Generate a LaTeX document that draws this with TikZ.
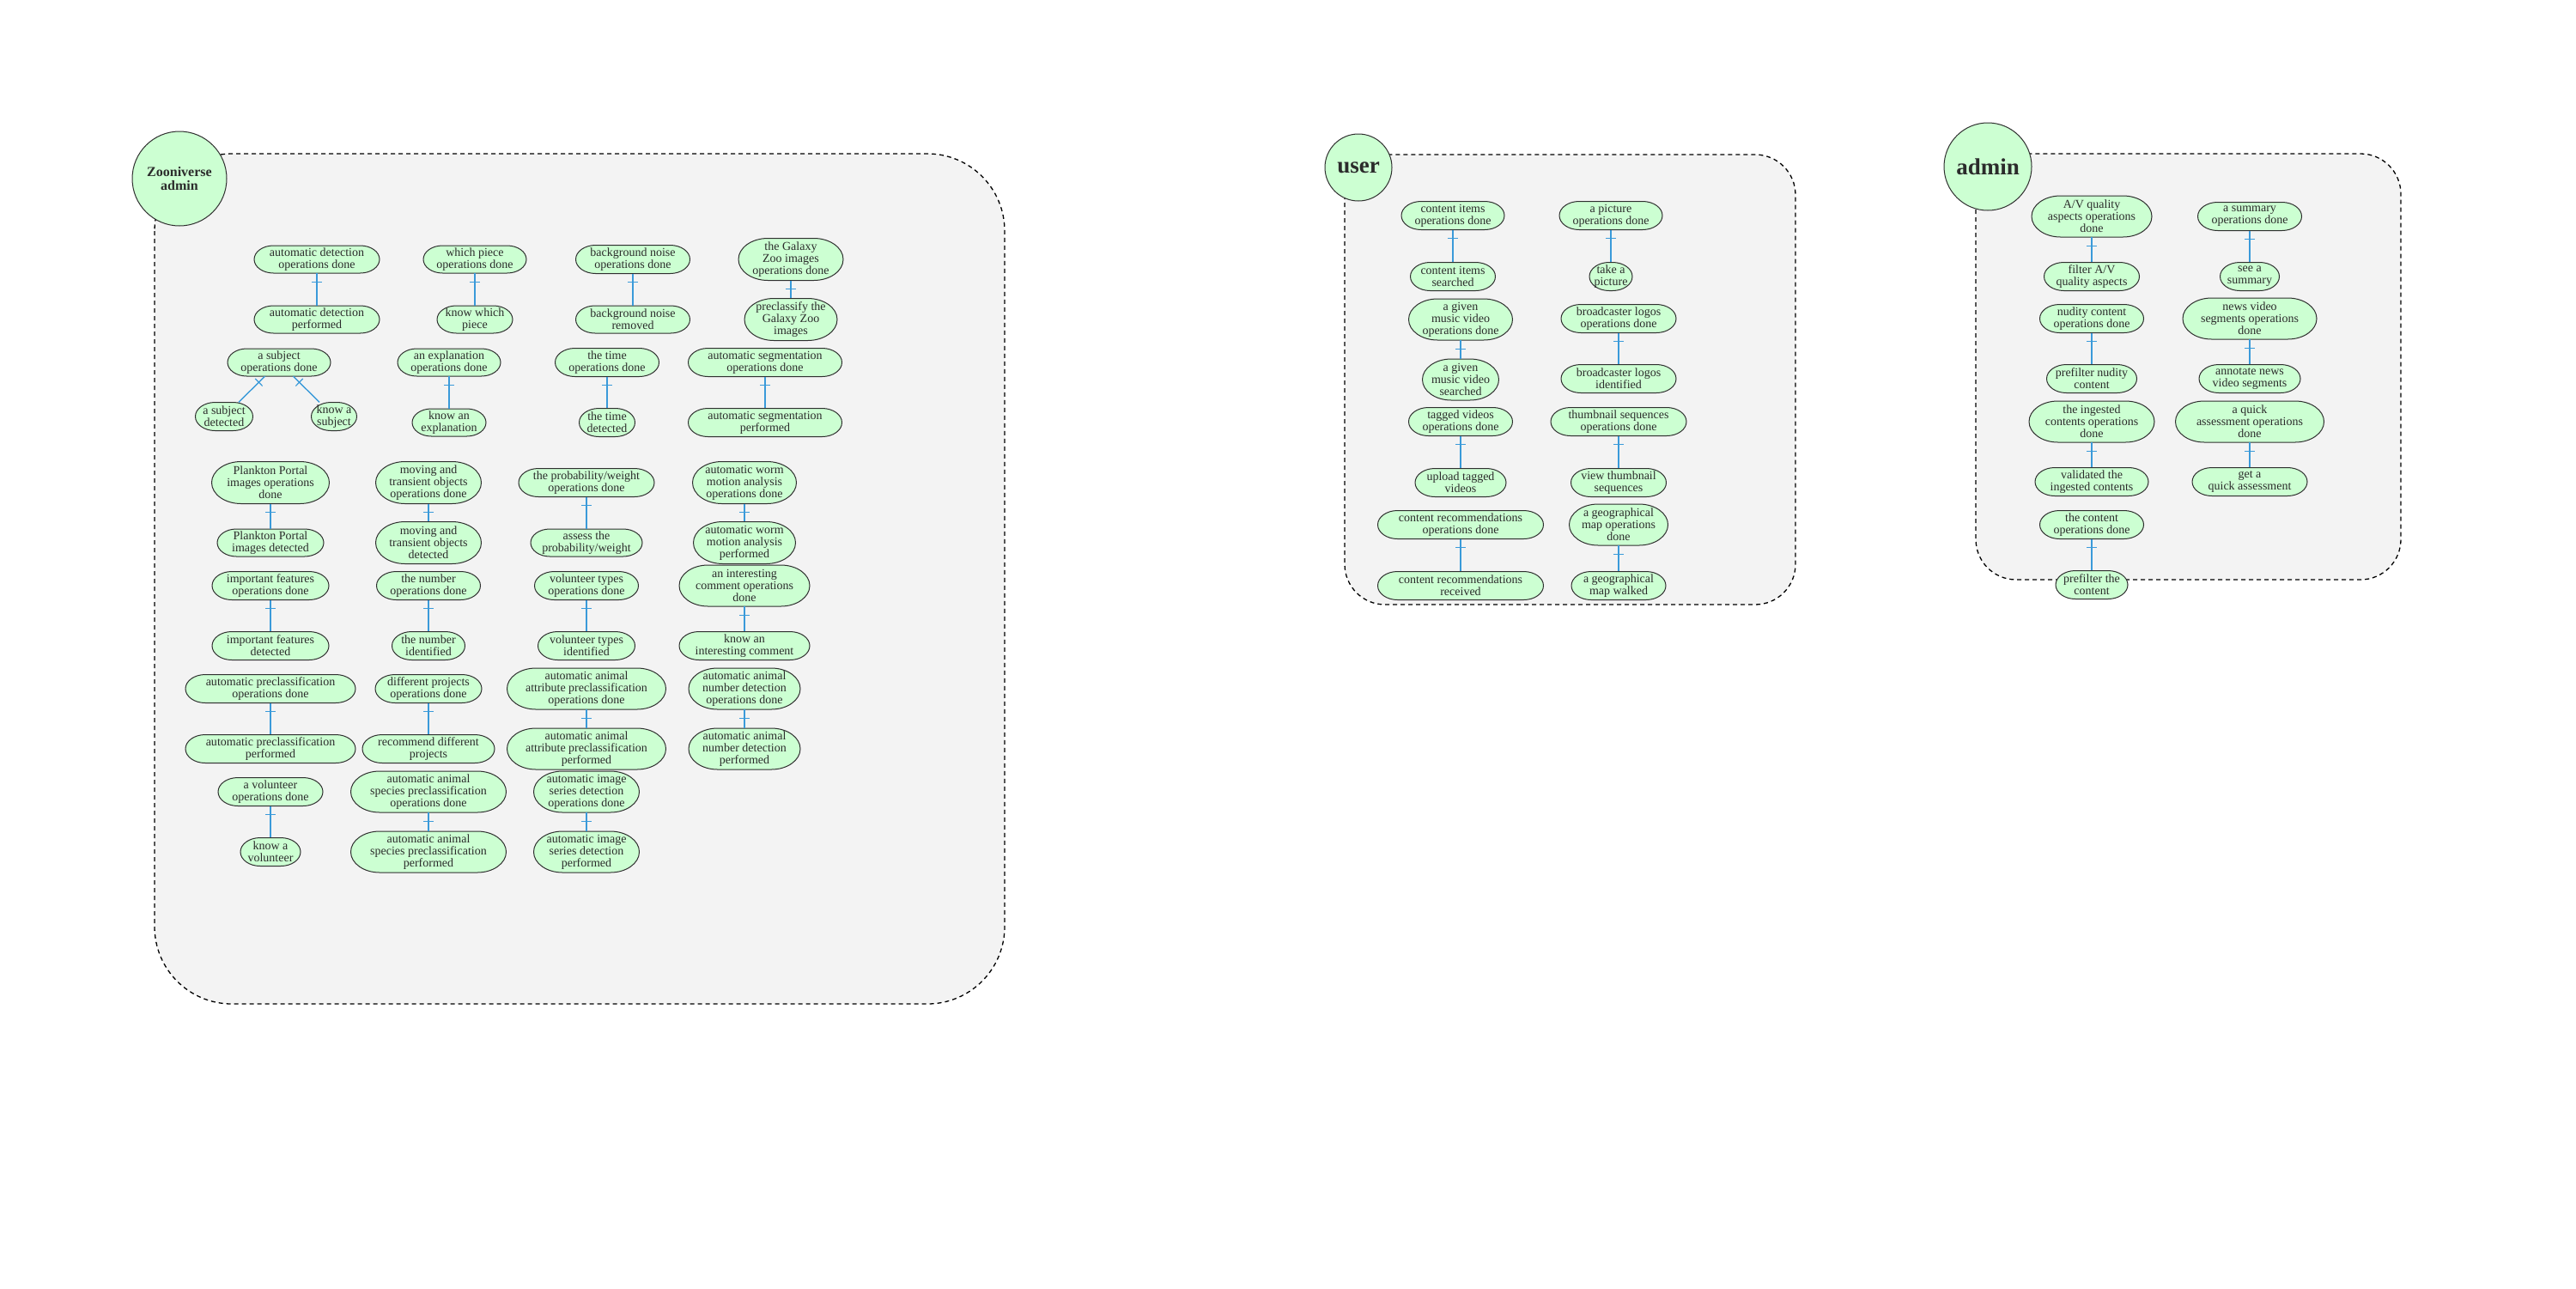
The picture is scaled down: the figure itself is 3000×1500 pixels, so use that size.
\documentclass[tikz,border=0pt]{standalone}
\usepackage{fontspec}
\setmainfont{Liberation Serif}
\usetikzlibrary{decorations.markings}
\definecolor{opfill}{HTML}{CCFFD2}
\definecolor{opline}{HTML}{2F2F2F}
\definecolor{txt}{HTML}{2B2B2B}
\definecolor{boxfill}{HTML}{F3F3F3}
\definecolor{connc}{HTML}{3A9AD9}
\newcommand{\opfont}{\fontsize{14pt}{14pt}\selectfont}
\newcommand{\opnode}[6]{%
  \pgfmathsetmacro\oprx{min(0.7*#5,#4/2)}%
  \pgfmathsetmacro\opry{#5/2}%
  \filldraw[fill=opfill,draw=opline,line width=1pt] (#2-#4/2+\oprx,-#3+\opry) -- (#2+#4/2-\oprx,-#3+\opry) arc[start angle=90,end angle=-90,x radius=\oprx pt,y radius=\opry pt] -- (#2-#4/2+\oprx,-#3-\opry) arc[start angle=270,end angle=90,x radius=\oprx pt,y radius=\opry pt] -- cycle;
  \node[optext,minimum width=#4pt,minimum height=#5pt] (#1) at (#2,-#3) {#6};
}
\tikzset{
  optext/.style={rectangle,inner sep=0pt,align=center,text=txt,font=\opfont},
  grp/.style={fill=boxfill,draw=black,line width=1.3pt,dash pattern=on 5pt off 4pt},
  actor/.style={circle,fill=opfill,draw=opline,line width=1pt,inner sep=0pt,align=center,text=txt},
  conn/.style={draw=connc,line width=1.4pt,postaction={decorate},
    decoration={markings,mark=at position 10pt with {\draw[connc,line width=1.2pt] (0pt,-6pt) -- (0pt,6pt);}}}
}
\begin{document}
\begin{tikzpicture}[x=1pt,y=1pt]
\fill[white] (0,0) rectangle (3000,-1500);
\useasboundingbox (0,0) rectangle (3000,-1500);
% group boxes
\path[grp,rounded corners=90pt] (180,-179) rectangle (1170,-1169);
\path[grp,rounded corners=47pt] (1566,-180) rectangle (2091,-704);
\path[grp,rounded corners=47pt] (2301,-179) rectangle (2796,-675);
% actors
\node[actor,minimum size=110pt,font=\bfseries\fontsize{16pt}{16pt}\selectfont] (zadmin) at (209,-208) {Zooniverse\\admin};
\node[actor,minimum size=78pt,font=\bfseries\fontsize{27pt}{27pt}\selectfont] (user) at (1582,-195) {user};
\node[actor,minimum size=102pt,font=\bfseries\fontsize{27pt}{27pt}\selectfont] (admin) at (2315,-194) {admin};
% left box, column 1
\opnode{a1}{369}{302}{146}{32}{automatic detection\\operations done}
\opnode{a2}{369}{372}{146}{32}{automatic detection\\performed}
\opnode{b1}{325}{422}{120}{32}{a subject\\operations done}
\opnode{b2}{261}{485}{67}{33}{a subject\\detected}
\opnode{b3}{389}{485}{53}{33}{know a\\subject}
\opnode{d1}{315}{562}{137}{49}{Plankton Portal\\images operations\\done}
\opnode{d2}{315}{632}{124}{32}{Plankton Portal\\images detected}
\opnode{e1}{315}{682}{136}{33}{important features\\operations done}
\opnode{e2}{315}{752}{136}{33}{important features\\detected}
\opnode{f1}{315}{802}{198}{33}{automatic preclassification\\operations done}
\opnode{f2}{315}{872}{198}{33}{automatic preclassification\\performed}
\opnode{g1}{315}{922}{122}{33}{a volunteer\\operations done}
\opnode{g2}{315}{992}{70}{33}{know a\\volunteer}
% column 2
\opnode{h1}{553}{302}{120}{32}{which piece\\operations done}
\opnode{h2}{553}{372}{88}{32}{know which\\piece}
\opnode{i1}{523}{422}{120}{32}{an explanation\\operations done}
\opnode{i2}{523}{492}{86}{32}{know an\\explanation}
\opnode{j1}{499}{562}{123}{49}{moving and\\transient objects\\operations done}
\opnode{j2}{499}{632}{123}{49}{moving and\\transient objects\\detected}
\opnode{k1}{499}{682}{121}{33}{the number\\operations done}
\opnode{k2}{499}{752}{85}{33}{the number\\identified}
\opnode{l1}{499}{802}{124}{33}{different projects\\operations done}
\opnode{l2}{499}{872}{154}{33}{recommend different\\projects}
\opnode{m1}{499}{922}{181}{48}{automatic animal\\species preclassification\\operations done}
\opnode{m2}{499}{992}{181}{48}{automatic animal\\species preclassification\\performed}
% column 3
\opnode{n1}{737}{302}{133}{33}{background noise\\operations done}
\opnode{n2}{737}{372}{133}{32}{background noise\\removed}
\opnode{o1}{707}{422}{121}{33}{the time\\operations done}
\opnode{o2}{707}{492}{65}{33}{the time\\detected}
\opnode{p1}{683}{562}{158}{33}{the probability/weight\\operations done}
\opnode{p2}{683}{632}{130}{32}{assess the\\probability/weight}
\opnode{q1}{683}{682}{121}{33}{volunteer types\\operations done}
\opnode{q2}{683}{752}{113}{33}{volunteer types\\identified}
\opnode{r1}{683}{802}{185}{48}{automatic animal\\attribute preclassification\\operations done}
\opnode{r2}{683}{872}{185}{48}{automatic animal\\attribute preclassification\\performed}
\opnode{s1}{683}{922}{123}{48}{automatic image\\series detection\\operations done}
\opnode{s2}{683}{992}{123}{48}{automatic image\\series detection\\performed}
% column 4
\opnode{t1}{921}{302}{122}{49}{the Galaxy\\Zoo images\\operations done}
\opnode{t2}{921}{372}{108}{49}{preclassify the\\Galaxy Zoo\\images}
\opnode{u1}{891}{422}{179}{33}{automatic segmentation\\operations done}
\opnode{u2}{891}{492}{179}{33}{automatic segmentation\\performed}
\opnode{v1}{867}{562}{121}{49}{automatic worm\\motion analysis\\operations done}
\opnode{v2}{867}{632}{119}{49}{automatic worm\\motion analysis\\performed}
\opnode{w1}{867}{682}{152}{48}{an interesting\\comment operations\\done}
\opnode{w2}{867}{752}{152}{33}{know an\\interesting comment}
\opnode{x1}{867}{802}{130}{48}{automatic animal\\number detection\\operations done}
\opnode{x2}{867}{872}{130}{48}{automatic animal\\number detection\\performed}
% user box
\opnode{ua1}{1692}{251}{120}{33}{content items\\operations done}
\opnode{ua2}{1692}{322}{99}{33}{content items\\searched}
\opnode{ub1}{1701}{372}{121}{48}{a given\\music video\\operations done}
\opnode{ub2}{1701}{442}{89}{48}{a given\\music video\\searched}
\opnode{uc1}{1701}{491}{121}{33}{tagged videos\\operations done}
\opnode{uc2}{1701}{562}{106}{33}{upload tagged\\videos}
\opnode{ud1}{1701}{611}{193}{33}{content recommendations\\operations done}
\opnode{ud2}{1701}{682}{193}{33}{content recommendations\\received}
\opnode{ue1}{1876}{251}{120}{33}{a picture\\operations done}
\opnode{ue2}{1876}{322}{50}{33}{take a\\picture}
\opnode{uf1}{1885}{371}{134}{33}{broadcaster logos\\operations done}
\opnode{uf2}{1885}{441}{134}{33}{broadcaster logos\\identified}
\opnode{ug1}{1885}{491}{158}{33}{thumbnail sequences\\operations done}
\opnode{ug2}{1885}{562}{111}{33}{view thumbnail\\sequences}
\opnode{uh1}{1885}{611}{115}{48}{a geographical\\map operations\\done}
\opnode{uh2}{1885}{682}{110}{33}{a geographical\\map walked}
% admin box
\opnode{aa1}{2436}{252}{140}{48}{A/V quality\\aspects operations\\done}
\opnode{aa2}{2436}{322}{111}{33}{filter A/V\\quality aspects}
\opnode{ab1}{2436}{371}{121}{33}{nudity content\\operations done}
\opnode{ab2}{2436}{441}{105}{33}{prefilter nudity\\content}
\opnode{ac1}{2436}{491}{146}{48}{the ingested\\contents operations\\done}
\opnode{ac2}{2436}{561}{132}{33}{validated the\\ingested contents}
\opnode{ad1}{2436}{611}{121}{33}{the content\\operations done}
\opnode{ad2}{2436}{681}{84}{33}{prefilter the\\content}
\opnode{ae1}{2620}{252}{121}{33}{a summary\\operations done}
\opnode{ae2}{2620}{322}{69}{33}{see a\\summary}
\opnode{af1}{2620}{371}{156}{48}{news video\\segments operations\\done}
\opnode{af2}{2620}{441}{118}{33}{annotate news\\video segments}
\opnode{ag1}{2620}{491}{173}{48}{a quick\\assessment operations\\done}
\opnode{ag2}{2620}{561}{134}{33}{get a\\quick assessment}
% connectors
\draw[conn] (b1) -- (b2);
\draw[conn] (b1) -- (b3);
\foreach \p in {a,d,e,f,g,h,i,j,k,l,m,n,o,p,q,r,s,t,u,v,w,x,ua,ub,uc,ud,ue,uf,ug,uh,aa,ab,ac,ad,ae,af,ag}
  \draw[conn] (\p1) -- (\p2);
\end{tikzpicture}
\end{document}
